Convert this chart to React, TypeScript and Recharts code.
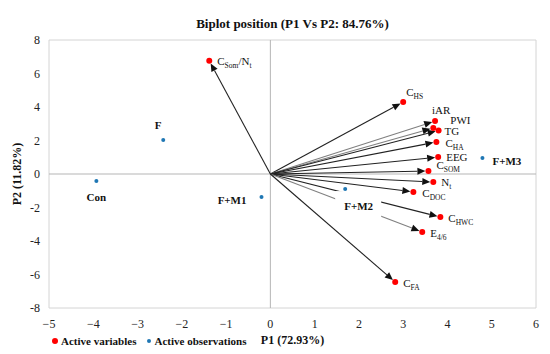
import { ScatterChart, Scatter, XAxis, YAxis, ReferenceLine, ReferenceArea } from "recharts";

const FONT = "'Liberation Serif', 'Times New Roman', serif";

const X_TICKS = [-5, -4, -3, -2, -1, 0, 1, 2, 3, 4, 5, 6];
const Y_TICKS = [-8, -6, -4, -2, 0, 2, 4, 6, 8];

// active variables (loadings)
const VAR_NAMES = ["CSom/Nt", "CHS", "iAR", "PWI", "TG", "CHA", "EEG", "CSOM", "Nt", "CDOC", "CHWC", "E4/6", "CFA"];
const VAR_P1 = [-1.38, 3.0, 3.72, 3.68, 3.8, 3.75, 3.79, 3.57, 3.68, 3.23, 3.84, 3.43, 2.82];
const VAR_P2 = [6.76, 4.3, 3.16, 2.75, 2.6, 1.91, 1.01, 0.18, -0.48, -1.07, -2.57, -3.46, -6.45];

// active observations (scores)
const OBS_NAMES = ["Con", "F", "F+M1", "F+M2", "F+M3"];
const OBS_P1 = [-3.93, -2.42, -0.2, 1.69, 4.79];
const OBS_P2 = [-0.42, 2.03, -1.37, -0.9, 0.96];

// label text, parts flagged true are subscripts
const LABEL_PARTS: Record<string, [string, boolean][]> = {
  "CSom/Nt": [["C", false], ["Som", true], ["/N", false], ["t", true]],
  CHS: [["C", false], ["HS", true]],
  iAR: [["iAR", false]],
  PWI: [["PWI", false]],
  TG: [["TG", false]],
  CHA: [["C", false], ["HA", true]],
  EEG: [["EEG", false]],
  CSOM: [["C", false], ["SOM", true]],
  Nt: [["N", false], ["t", true]],
  CDOC: [["C", false], ["DOC", true]],
  CHWC: [["C", false], ["HWC", true]],
  "E4/6": [["E", false], ["4/6", true]],
  CFA: [["C", false], ["FA", true]],
};

// label placement relative to the point: dx, dy, anchor
const LABEL_POS: Record<string, [number, number, "start" | "middle" | "end"]> = {
  "CSom/Nt": [8, 0, "start"],
  CHS: [3, -10, "start"],
  iAR: [-3, -11, "start"],
  PWI: [17, -8, "start"],
  TG: [6, 1, "start"],
  CHA: [9, 1, "start"],
  EEG: [8, 0, "start"],
  CSOM: [8, -6, "start"],
  Nt: [8, 0, "start"],
  CDOC: [9, 1, "start"],
  CHWC: [8, 1, "start"],
  "E4/6": [8, 1, "start"],
  CFA: [8, 1, "start"],
  Con: [0, 16, "middle"],
  F: [-5, -15, "middle"],
  "F+M1": [-15, 3, "end"],
  "F+M2": [-1, 17, "start"],
  "F+M3": [10, 3, "start"],
};

const GREY_ARROWS = ["iAR", "PWI", "E4/6"];

const varData = VAR_NAMES.map((name, i) => ({ name, x: VAR_P1[i], y: VAR_P2[i] }));
const obsData = OBS_NAMES.map((name, i) => ({ name, x: OBS_P1[i], y: OBS_P2[i] }));

function PointLabel({ cx, cy, name, bold }: { cx: number; cy: number; name: string; bold?: boolean }) {
  const [dx, dy, anchor] = LABEL_POS[name] || [6, 0, "start"];
  const parts = LABEL_PARTS[name] || [[name, false]];
  return (
    <text x={cx + dx} y={cy + dy + 4} textAnchor={anchor} fontFamily={FONT} fontSize={11}
      fontWeight={bold ? "bold" : "normal"} fill="#111">
      {parts.map(([t, sub], i) => {
        const prevSub = i > 0 && parts[i - 1][1];
        const shift = sub ? 3 : prevSub ? -3 : 0;
        return (
          <tspan key={i} dy={shift} fontSize={sub ? 7.5 : 11}>{t}</tspan>
        );
      })}
    </text>
  );
}

const VarPoint = (props: any) => {
  const { cx, cy, payload } = props;
  return (
    <g>
      <circle cx={cx} cy={cy} r={3} fill="#ff0000" />
      <PointLabel cx={cx} cy={cy} name={payload.name} />
    </g>
  );
};

const ObsPoint = (props: any) => {
  const { cx, cy, payload } = props;
  return (
    <g>
      {payload.name === "F+M2" && <rect x={cx - 10} y={cy + 2} width={46} height={31} fill="#fff" />}
      <circle cx={cx} cy={cy} r={2} fill="#1f77b4" />
      <PointLabel cx={cx} cy={cy} name={payload.name} bold />
    </g>
  );
};

const arrowShape = (color: string) => (props: any) => {
  const { x1, y1, x2, y2 } = props;
  const dx = x2 - x1;
  const dy = y2 - y1;
  const len = Math.hypot(dx, dy) || 1;
  const ux = dx / len;
  const uy = dy / len;
  const tipX = x2 - ux * 3;
  const tipY = y2 - uy * 3;
  const bx = tipX - ux * 8;
  const by = tipY - uy * 8;
  const px = -uy;
  const py = ux;
  return (
    <g>
      <line x1={x1} y1={y1} x2={bx} y2={by} stroke={color} strokeWidth={1.1} />
      <polygon
        points={`${tipX},${tipY} ${bx + px * 3.5},${by + py * 3.5} ${bx - px * 3.5},${by - py * 3.5}`}
        fill="#111"
      />
    </g>
  );
};

const xFmt = (v: number) => (v < 0 ? `\u2212${-v}` : `${v}`);

export default function App() {
  const tick = { fontFamily: FONT, fontSize: 12, fill: "#222" };
  return (
    <div style={{ position: "absolute", left: 0, top: 0, width: 550, height: 354, background: "#fff" }}>
      <div style={{ position: "absolute", left: 49, top: 16, width: 487, textAlign: "center", fontFamily: FONT, fontWeight: "bold", fontSize: 13, lineHeight: "16px", color: "#111" }}>
        Biplot position (P1 Vs P2: 84.76%)
      </div>
      <ScatterChart width={550} height={354} margin={{ top: 40, right: 14, bottom: 26, left: 0 }}>
        <XAxis type="number" dataKey="x" domain={[-5, 6]} ticks={X_TICKS} interval={0} tickFormatter={xFmt}
          axisLine={false} tickLine={false} tickSize={0} tickMargin={11} height={20} tick={tick}
          label={{ value: "P1 (72.93%)", position: "bottom", offset: 7, style: { fontFamily: FONT, fontSize: 12, fontWeight: "bold", fill: "#111" } }} />
        <YAxis type="number" dataKey="y" domain={[-8, 8]} ticks={Y_TICKS} interval={0}
          axisLine={false} tickLine={false} tickSize={0} tickMargin={9} width={49} tick={tick}
          label={{ value: "P2 (11.82%)", angle: -90, position: "insideLeft", offset: 17, style: { textAnchor: "middle", fontFamily: FONT, fontSize: 12, fontWeight: "bold", fill: "#111" } }} />
        <ReferenceArea x1={-5} x2={6} y1={-8} y2={8} fill="none" stroke="#d4d4d4" strokeWidth={1} />
        <ReferenceLine x={0} stroke="#b5b5b5" strokeWidth={1} />
        <ReferenceLine y={0} stroke="#b5b5b5" strokeWidth={1} />
        {varData.map((d) => (
          <ReferenceLine key={d.name} segment={[{ x: 0, y: 0 }, { x: d.x, y: d.y }]}
            shape={arrowShape(GREY_ARROWS.includes(d.name) ? "#808080" : "#222")} />
        ))}
        <Scatter name="Active variables" data={varData} shape={VarPoint} isAnimationActive={false} />
        <Scatter name="Active observations" data={obsData} shape={ObsPoint} isAnimationActive={false} />
      </ScatterChart>
      <div style={{ position: "absolute", left: 52, top: 334, display: "flex", alignItems: "center", fontFamily: FONT, fontWeight: "bold", fontSize: 11, color: "#111", lineHeight: "14px" }}>
        <span style={{ display: "inline-block", width: 6, height: 6, borderRadius: 3, background: "#ff0000", marginRight: 3 }} />
        <span>Active variables</span>
        <span style={{ display: "inline-block", width: 4, height: 4, borderRadius: 2, background: "#1f77b4", marginLeft: 11, marginRight: 3 }} />
        <span>Active observations</span>
      </div>
    </div>
  );
}
